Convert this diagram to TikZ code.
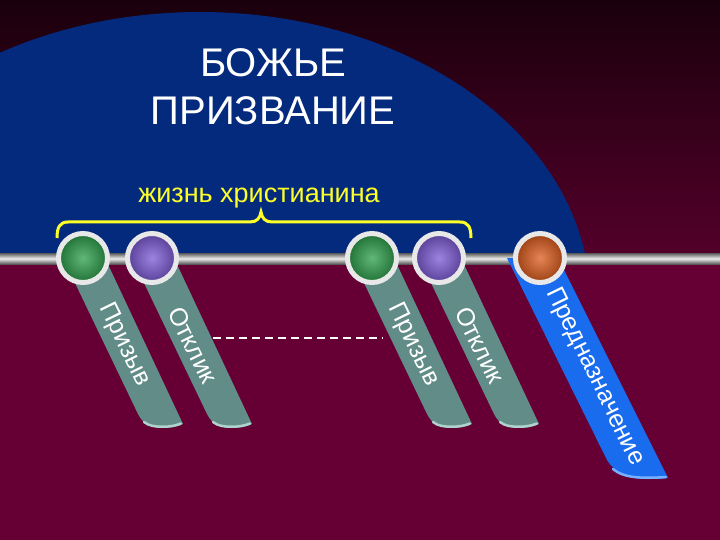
\documentclass[tikz,border=0pt]{standalone}
\usepackage{fontspec}
\setmainfont{Liberation Sans}
\definecolor{bgtop}{RGB}{26,0,12}
\definecolor{bgmid}{RGB}{84,0,42}
\definecolor{bglow}{RGB}{102,0,52}
\definecolor{dome}{RGB}{4,42,126}
\definecolor{strip}{RGB}{98,140,136}
\definecolor{striprim}{RGB}{175,210,205}
\definecolor{bluestrip}{RGB}{26,108,238}
\definecolor{bluerim}{RGB}{120,175,255}
\definecolor{ballgreen}{RGB}{45,160,75}
\definecolor{ballpurple}{RGB}{125,90,215}
\definecolor{ballorange}{RGB}{222,92,28}
\definecolor{braceyellow}{RGB}{255,255,40}

\begin{document}
\begin{tikzpicture}
  [x=1pt,y=-1pt,
   ball/.style={circle,minimum size=49pt,inner sep=0pt,draw=white!82!gray,
                line width=5pt,inner color=#1!75!white,outer color=#1!70!black},
   striptext/.style={text=white,font=\fontsize{25}{25}\selectfont,rotate=-64,inner sep=0pt},
   titletext/.style={anchor=base,font=\fontsize{40}{48}\selectfont,inner sep=0pt}]
\useasboundingbox (0,0) rectangle (720,540);

\fill [top color=bgtop,bottom color=bgmid] (0,0) rectangle (720,258);
\fill [bglow] (0,258) rectangle (720,540);
\begin{scope}
  \clip (0,0) rectangle (720,258);
  \fill [dome] (200,300) ellipse [x radius=390pt,y radius=288pt];
\end{scope}

% rail
\fill [top color=gray!70!black,bottom color=gray!70!black,middle color=white!85!gray]
  (0,253) rectangle (720,264);

\foreach \n/\x in {zov1/83,otk1/152,zov2/372,otk2/439,pred/540}
  \coordinate (\n) at (\x,258);

\foreach \c in {zov1,otk1,zov2,otk2} {
  \begin{scope}[shift={(\c)}]
    \fill [strip] (-20,0) -- (55,156) .. controls (60,166) and (68,170) .. (80,170)
                  .. controls (90,170) and (96,168) .. (100,166) -- (22,0) -- cycle;
    \draw [striprim,line width=2.5pt,line cap=round]
      (61,164) .. controls (66,168) and (72,168.7) .. (80,168.7)
      .. controls (89,168.7) and (94,167) .. (98,165.5);
  \end{scope}
}
\begin{scope}[shift={(pred)}]
  \fill [bluestrip] (-33,0) -- (67,202) .. controls (74,214) and (88,221) .. (106,221)
                    .. controls (116,221) and (123,221) .. (128,220) -- (18,0) -- cycle;
  \draw [bluerim,line width=2.5pt,line cap=round]
    (73,211) .. controls (80,217) and (91,219.7) .. (106,219.7)
    .. controls (115,219.7) and (121,219.5) .. (126,219);
\end{scope}

\coordinate (dashL) at (213,338);
\coordinate (dashR) at (383,338);
\draw [white,line width=1.5pt,dash pattern=on 8pt off 5pt] (dashL) -- (dashR);

\node [ball=ballgreen]  (zov1ball) at (zov1) {};
\node [ball=ballpurple] (otk1ball) at (otk1) {};
\node [ball=ballgreen]  (zov2ball) at (zov2) {};
\node [ball=ballpurple] (otk2ball) at (otk2) {};
\node [ball=ballorange] (predball) at (pred) {};

\node [striptext] (zov1text) at ([shift={(41,87)}]zov1) {Призыв};
\node [striptext] (otk1text) at ([shift={(41,87)}]otk1) {Отклик};
\node [striptext] (zov2text) at ([shift={(41,87)}]zov2) {Призыв};
\node [striptext] (otk2text) at ([shift={(41,87)}]otk2) {Отклик};
\node [striptext] (predtext) at ([shift={(55,119)}]pred) {Предназначение};

% title
\node [titletext,white] (title1) at (273,77) {БОЖЬЕ};
\node [titletext,white] (title2) at (273,125) {ПРИЗВАНИЕ};

\node [anchor=base,inner sep=0pt,text=braceyellow,font=\fontsize{27}{27}\selectfont]
  (life) at (259,203) {жизнь христианина};

\draw [braceyellow,line width=3pt]
  (57,238) .. controls (57,227) and (60,222) .. (68,222) -- (250,222)
  .. controls (257,222) and (260,218) .. (261,212)
  .. controls (262,218) and (265,222) .. (272,222) -- (460,222)
  .. controls (468,222) and (471,227) .. (471,238);
\end{tikzpicture}
\end{document}
